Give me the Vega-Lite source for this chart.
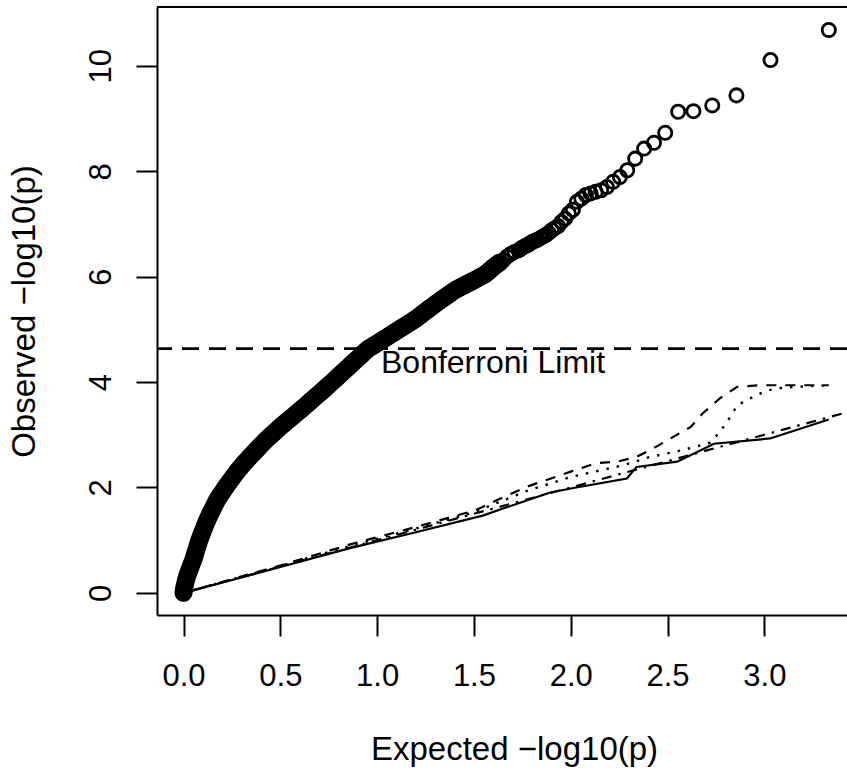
{
  "$schema": "https://vega.github.io/schema/vega-lite/v6.json",
  "width": 690,
  "height": 608,
  "autosize": "none",
  "padding": {"left": 157, "top": 7, "right": 0, "bottom": 153},
  "background": "white",
  "config": {
    "view": {"stroke": null},
    "font": "Liberation Sans",
    "axis": {
      "grid": false,
      "domainColor": "black",
      "domainWidth": 2,
      "tickColor": "black",
      "tickWidth": 2,
      "tickSize": 21,
      "labelColor": "black",
      "titleColor": "black",
      "labelFont": "Liberation Sans",
      "titleFont": "Liberation Sans",
      "titleFontWeight": "normal",
      "labelFontSize": 31,
      "titleFontSize": 33
    }
  },
  "datasets": {
    "pts": [
      {"e":0,"o":0},{"e":0.001,"o":0.03},{"e":0.0025,"o":0.07},{"e":0.004,"o":0.1},{"e":0.006,"o":0.135},{"e":0.008,"o":0.165},{"e":0.01,"o":0.2},{"e":0.0125,"o":0.235},{"e":0.015,"o":0.27},{"e":0.0175,"o":0.3},{"e":0.02,"o":0.33},{"e":0.025,"o":0.38},{"e":0.03,"o":0.43},{"e":0.035,"o":0.48},{"e":0.04,"o":0.53},{"e":0.045,"o":0.575},{"e":0.05,"o":0.62},
      {"e":0.055,"o":0.68},{"e":0.06,"o":0.74},{"e":0.065,"o":0.8},{"e":0.07,"o":0.86},{"e":0.075,"o":0.92},{"e":0.08,"o":0.98},{"e":0.085,"o":1.03},{"e":0.09,"o":1.08},{"e":0.095,"o":1.13},{"e":0.1,"o":1.175},{"e":0.105,"o":1.22},{"e":0.11,"o":1.27},{"e":0.115,"o":1.315},{"e":0.12,"o":1.36},
      {"e":0.13,"o":1.44},{"e":0.14,"o":1.52},{"e":0.15,"o":1.59},{"e":0.16,"o":1.665},{"e":0.17,"o":1.74},{"e":0.18,"o":1.8},{"e":0.19,"o":1.855},{"e":0.2,"o":1.91},{"e":0.21,"o":1.965},{"e":0.22,"o":2.02},{"e":0.23,"o":2.07},{"e":0.24,"o":2.12},{"e":0.25,"o":2.17},{"e":0.26,"o":2.22},{"e":0.27,"o":2.27},{"e":0.28,"o":2.32},{"e":0.29,"o":2.36},{"e":0.3,"o":2.405},{"e":0.31,"o":2.45},{"e":0.32,"o":2.49},{"e":0.33,"o":2.53},{"e":0.34,"o":2.57},
      {"e":0.355,"o":2.628},{"e":0.37,"o":2.686},{"e":0.385,"o":2.744},{"e":0.4,"o":2.803},{"e":0.415,"o":2.861},{"e":0.43,"o":2.914},{"e":0.445,"o":2.965},{"e":0.46,"o":3.015},{"e":0.475,"o":3.066},{"e":0.49,"o":3.116},{"e":0.505,"o":3.165},{"e":0.52,"o":3.212},{"e":0.535,"o":3.258},{"e":0.55,"o":3.304},{"e":0.565,"o":3.35},{"e":0.58,"o":3.397},{"e":0.595,"o":3.443},{"e":0.61,"o":3.489},{"e":0.625,"o":3.536},{"e":0.64,"o":3.585},{"e":0.655,"o":3.633},{"e":0.67,"o":3.682},{"e":0.685,"o":3.73},{"e":0.7,"o":3.778},{"e":0.715,"o":3.827},{"e":0.73,"o":3.875},{"e":0.745,"o":3.924},{"e":0.76,"o":3.974},{"e":0.775,"o":4.025},{"e":0.79,"o":4.076},{"e":0.805,"o":4.127},{"e":0.82,"o":4.178},{"e":0.835,"o":4.229},{"e":0.85,"o":4.28},{"e":0.865,"o":4.331},{"e":0.88,"o":4.382},{"e":0.895,"o":4.433},{"e":0.91,"o":4.484},{"e":0.925,"o":4.535},{"e":0.94,"o":4.586},{"e":0.955,"o":4.636},
      {"e":0.97,"o":4.666},{"e":0.985,"o":4.701},{"e":1.0,"o":4.735},{"e":1.015,"o":4.77},{"e":1.03,"o":4.805},{"e":1.045,"o":4.839},{"e":1.06,"o":4.874},{"e":1.075,"o":4.908},{"e":1.09,"o":4.943},{"e":1.105,"o":4.978},{"e":1.12,"o":5.013},{"e":1.135,"o":5.048},{"e":1.15,"o":5.083},{"e":1.165,"o":5.118},{"e":1.18,"o":5.153},{"e":1.195,"o":5.188},{"e":1.21,"o":5.228},{"e":1.225,"o":5.27},{"e":1.24,"o":5.312},{"e":1.255,"o":5.354},{"e":1.27,"o":5.396},{"e":1.285,"o":5.438},{"e":1.3,"o":5.48},{"e":1.315,"o":5.519},{"e":1.33,"o":5.558},{"e":1.345,"o":5.597},{"e":1.36,"o":5.636},{"e":1.375,"o":5.675},{"e":1.39,"o":5.714},{"e":1.405,"o":5.75},{"e":1.42,"o":5.778},{"e":1.435,"o":5.807},{"e":1.45,"o":5.835},{"e":1.465,"o":5.864},{"e":1.48,"o":5.892},{"e":1.495,"o":5.92},{"e":1.51,"o":5.95},{"e":1.525,"o":5.98},{"e":1.54,"o":6.01},{"e":1.555,"o":6.04},{"e":1.57,"o":6.083},{"e":1.585,"o":6.13},{"e":1.6,"o":6.18},{"e":1.615,"o":6.22},{"e":1.634,"o":6.27},
      {"e":1.652,"o":6.31},{"e":1.671,"o":6.38},{"e":1.69,"o":6.43},{"e":1.71,"o":6.47},{"e":1.731,"o":6.5},{"e":1.742,"o":6.53},{"e":1.753,"o":6.56},{"e":1.765,"o":6.58},{"e":1.777,"o":6.6},{"e":1.789,"o":6.63},{"e":1.802,"o":6.66},{"e":1.815,"o":6.68},{"e":1.828,"o":6.7},{"e":1.842,"o":6.73},{"e":1.856,"o":6.76},{"e":1.871,"o":6.79},{"e":1.886,"o":6.83},{"e":1.902,"o":6.88},{"e":1.918,"o":6.92},{"e":1.935,"o":6.96},{"e":1.952,"o":7.04},{"e":1.971,"o":7.1},{"e":1.99,"o":7.2},{"e":2.011,"o":7.27},{"e":2.032,"o":7.42},{"e":2.055,"o":7.48},{"e":2.078,"o":7.55},{"e":2.103,"o":7.58},{"e":2.129,"o":7.61},{"e":2.157,"o":7.64},{"e":2.187,"o":7.7},{"e":2.219,"o":7.8},{"e":2.254,"o":7.89},{"e":2.292,"o":8.02},{"e":2.333,"o":8.24},{"e":2.379,"o":8.43},{"e":2.43,"o":8.54},{"e":2.488,"o":8.73},{"e":2.555,"o":9.13},{"e":2.634,"o":9.14},{"e":2.731,"o":9.25},{"e":2.856,"o":9.44},{"e":3.032,"o":10.11},{"e":3.333,"o":10.68}
    ],
    "ref": [
      {"line":"solid","e":0,"o":0},{"line":"solid","e":0.5,"o":0.49},{"line":"solid","e":0.86,"o":0.85},{"line":"solid","e":1.2,"o":1.15},{"line":"solid","e":1.55,"o":1.47},{"line":"solid","e":1.65,"o":1.6},{"line":"solid","e":1.89,"o":1.9},{"line":"solid","e":2.0,"o":1.98},{"line":"solid","e":2.29,"o":2.17},{"line":"solid","e":2.34,"o":2.39},{"line":"solid","e":2.55,"o":2.49},{"line":"solid","e":2.74,"o":2.83},{"line":"solid","e":3.03,"o":2.93},{"line":"solid","e":3.333,"o":3.29},
      {"line":"dashed","e":0,"o":0},{"line":"dashed","e":0.5,"o":0.52},{"line":"dashed","e":0.86,"o":0.92},{"line":"dashed","e":1.2,"o":1.25},{"line":"dashed","e":1.51,"o":1.57},{"line":"dashed","e":1.62,"o":1.76},{"line":"dashed","e":1.77,"o":2.01},{"line":"dashed","e":2.0,"o":2.3},{"line":"dashed","e":2.13,"o":2.46},{"line":"dashed","e":2.24,"o":2.49},{"line":"dashed","e":2.34,"o":2.58},{"line":"dashed","e":2.44,"o":2.77},{"line":"dashed","e":2.53,"o":2.96},{"line":"dashed","e":2.62,"o":3.15},{"line":"dashed","e":2.68,"o":3.4},{"line":"dashed","e":2.77,"o":3.69},{"line":"dashed","e":2.86,"o":3.91},{"line":"dashed","e":2.98,"o":3.94},{"line":"dashed","e":3.333,"o":3.94},
      {"line":"dotted","e":0,"o":0},{"line":"dotted","e":0.5,"o":0.51},{"line":"dotted","e":0.86,"o":0.89},{"line":"dotted","e":1.2,"o":1.22},{"line":"dotted","e":1.5,"o":1.53},{"line":"dotted","e":1.77,"o":1.93},{"line":"dotted","e":2.0,"o":2.2},{"line":"dotted","e":2.27,"o":2.42},{"line":"dotted","e":2.41,"o":2.58},{"line":"dotted","e":2.58,"o":2.71},{"line":"dotted","e":2.72,"o":2.85},{"line":"dotted","e":2.77,"o":3.05},{"line":"dotted","e":2.83,"o":3.37},{"line":"dotted","e":2.86,"o":3.56},{"line":"dotted","e":2.91,"o":3.66},{"line":"dotted","e":2.96,"o":3.75},{"line":"dotted","e":3.01,"o":3.83},{"line":"dotted","e":3.06,"o":3.88},{"line":"dotted","e":3.17,"o":3.91},{"line":"dotted","e":3.333,"o":3.94},
      {"line":"identity","e":0,"o":0},{"line":"identity","e":3.5,"o":3.5}
    ]
  },
  "layer": [
    {
      "data": {"name": "pts"},
      "transform": [{"filter": "datum.e <= 1.64"}],
      "mark": {"type": "line", "stroke": "black", "strokeWidth": 18, "strokeCap": "round", "strokeJoin": "round"},
      "encoding": {
        "x": {"field": "e", "type": "quantitative", "scale": {"domain": [-0.137, 3.427], "nice": false, "zero": false}},
        "y": {"field": "o", "type": "quantitative", "scale": {"domain": [-0.42, 11.117], "nice": false, "zero": false}}
      }
    },
    {
      "data": {"name": "pts"},
      "mark": {"type": "point", "shape": "circle", "filled": false, "stroke": "black", "strokeWidth": 2.8, "size": 175, "opacity": 1},
      "encoding": {
        "x": {"field": "e", "type": "quantitative", "scale": {"domain": [-0.137, 3.427], "nice": false, "zero": false},
          "axis": {"values": [0, 0.5, 1, 1.5, 2, 2.5, 3], "format": ".1f", "title": "Expected −log10(p)", "labelPadding": 49, "labelBaseline": "alphabetic", "labelFlush": false, "labelOverlap": false, "titleX": 357, "titleY": 144, "titleBaseline": "alphabetic", "titleAlign": "center"}},
        "y": {"field": "o", "type": "quantitative", "scale": {"domain": [-0.42, 11.117], "nice": false, "zero": false},
          "axis": {"values": [0, 2, 4, 6, 8, 10], "title": "Observed −log10(p)", "labelAngle": 270, "labelAlign": "center", "labelBaseline": "alphabetic", "labelPadding": 26, "labelFlush": false, "labelOverlap": false, "titleAngle": 270, "titleAlign": "center", "titleBaseline": "alphabetic", "titleX": -122.5, "titleY": 304}}
      }
    },
    {
      "data": {"name": "ref"},
      "transform": [{"filter": "datum.line === 'solid'"}],
      "mark": {"type": "line", "stroke": "black", "strokeWidth": 2.2, "clip": true},
      "encoding": {
        "x": {"field": "e", "type": "quantitative", "scale": {"domain": [-0.137, 3.427], "nice": false, "zero": false}},
        "y": {"field": "o", "type": "quantitative", "scale": {"domain": [-0.42, 11.117], "nice": false, "zero": false}}
      }
    },
    {
      "data": {"name": "ref"},
      "transform": [{"filter": "datum.line === 'dashed'"}],
      "mark": {"type": "line", "stroke": "black", "strokeWidth": 2.2, "strokeDash": [10, 9], "clip": true},
      "encoding": {
        "x": {"field": "e", "type": "quantitative", "scale": {"domain": [-0.137, 3.427], "nice": false, "zero": false}},
        "y": {"field": "o", "type": "quantitative", "scale": {"domain": [-0.42, 11.117], "nice": false, "zero": false}}
      }
    },
    {
      "data": {"name": "ref"},
      "transform": [{"filter": "datum.line === 'dotted'"}],
      "mark": {"type": "line", "stroke": "black", "strokeWidth": 2.4, "strokeDash": [2.5, 8], "clip": true},
      "encoding": {
        "x": {"field": "e", "type": "quantitative", "scale": {"domain": [-0.137, 3.427], "nice": false, "zero": false}},
        "y": {"field": "o", "type": "quantitative", "scale": {"domain": [-0.42, 11.117], "nice": false, "zero": false}}
      }
    },
    {
      "data": {"name": "ref"},
      "transform": [{"filter": "datum.line === 'identity'"}],
      "mark": {"type": "line", "stroke": "black", "strokeWidth": 2.2, "strokeDash": [2.5, 7, 10, 7], "clip": true},
      "encoding": {
        "x": {"field": "e", "type": "quantitative", "scale": {"domain": [-0.137, 3.427], "nice": false, "zero": false}},
        "y": {"field": "o", "type": "quantitative", "scale": {"domain": [-0.42, 11.117], "nice": false, "zero": false}}
      }
    },
    {
      "data": {"values": [{"o": 4.634}]},
      "mark": {"type": "rule", "stroke": "black", "strokeWidth": 2.6, "strokeDash": [17, 10]},
      "encoding": {
        "y": {"field": "o", "type": "quantitative", "scale": {"domain": [-0.42, 11.117], "nice": false, "zero": false}}
      }
    },
    {
      "data": {"values": [{"o": 11.117}]},
      "mark": {"type": "rule", "stroke": "black", "strokeWidth": 2},
      "encoding": {
        "y": {"field": "o", "type": "quantitative", "scale": {"domain": [-0.42, 11.117], "nice": false, "zero": false}}
      }
    },
    {
      "data": {"values": [{"e": 1.02, "o": 4.175, "label": "Bonferroni Limit"}]},
      "mark": {"type": "text", "align": "left", "baseline": "alphabetic", "fontSize": 32, "font": "Liberation Sans", "color": "black"},
      "encoding": {
        "x": {"field": "e", "type": "quantitative", "scale": {"domain": [-0.137, 3.427], "nice": false, "zero": false}},
        "y": {"field": "o", "type": "quantitative", "scale": {"domain": [-0.42, 11.117], "nice": false, "zero": false}},
        "text": {"field": "label"}
      }
    }
  ]
}
